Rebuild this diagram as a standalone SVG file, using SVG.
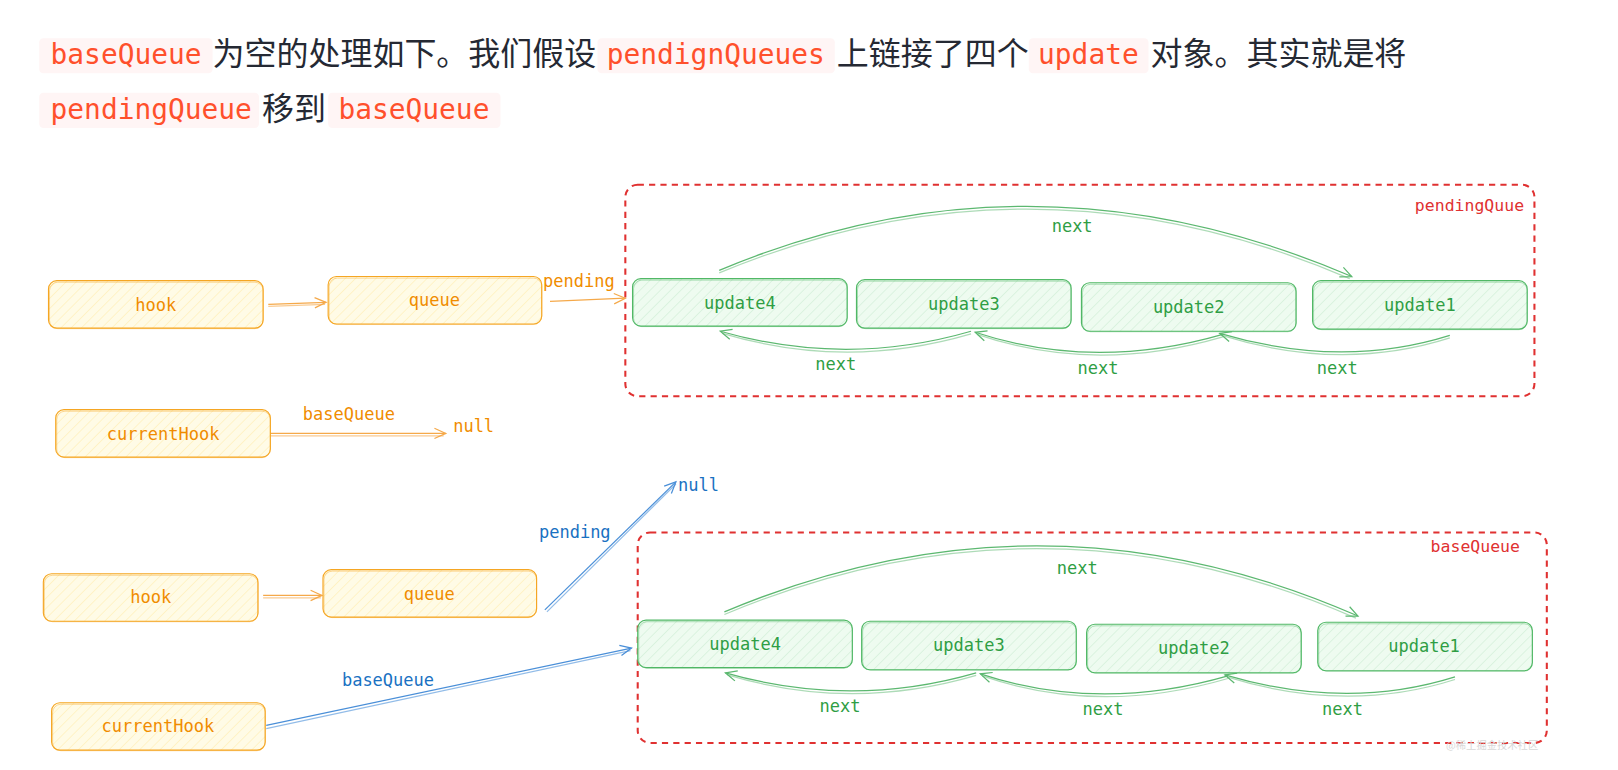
<svg xmlns="http://www.w3.org/2000/svg" width="1618" height="770" viewBox="0 0 1618 770">
<style>
.zh{font-family:"Noto Sans CJK SC","Noto Sans",sans-serif;font-size:31px;fill:#252933}
.code{font-family:"DejaVu Sans Mono","Liberation Mono",monospace;font-size:27px;fill:#ff502c}
.codebg{fill:#fff5f5}
.t{font-family:"DejaVu Sans Mono","Liberation Mono",monospace;font-size:16.5px;text-anchor:middle}
.ot{fill:#f08c00}
.gt{fill:#2f9e44}
.bt{fill:#1971c2}
.rt{fill:#e03131;font-family:"DejaVu Sans Mono","Liberation Mono",monospace;font-size:16px;text-anchor:end}
.yn{fill:url(#hy);stroke:#f5a623;stroke-width:1.1}
.gn{fill:url(#hg);stroke:#51b866;stroke-width:1.1}
.yn2{fill:none;stroke:#f5a623;stroke-width:0.7;opacity:0.6}
.gn2{fill:none;stroke:#51b866;stroke-width:0.7;opacity:0.6}
.box{fill:none;stroke:#e03131;stroke-width:2;stroke-dasharray:6 5}
.co{fill:none;stroke:#f5a94a;stroke-width:1.2}
.cg{fill:none;stroke:#5cb870;stroke-width:1.2}
.cb{fill:none;stroke:#4a8fd8;stroke-width:1.2}
</style>
<defs>
<pattern id="hy" patternUnits="userSpaceOnUse" width="7" height="7" patternTransform="rotate(45)">
<rect width="7" height="7" fill="#fffbe6"/>
<line x1="0" y1="0" x2="0" y2="7" stroke="#ffeeb0" stroke-width="1.1"/>
</pattern>
<pattern id="hg" patternUnits="userSpaceOnUse" width="7" height="7" patternTransform="rotate(45)">
<rect width="7" height="7" fill="#eefbf0"/>
<line x1="0" y1="0" x2="0" y2="7" stroke="#cdeed3" stroke-width="1.1"/>
</pattern>
<marker id="ao" markerUnits="userSpaceOnUse" markerWidth="14" markerHeight="12" refX="12" refY="6" orient="auto"><path d="M1,1 L12,6 L1,11" fill="none" stroke="#f5a94a" stroke-width="1.2"/></marker>
<marker id="ag" markerUnits="userSpaceOnUse" markerWidth="14" markerHeight="12" refX="12" refY="6" orient="auto"><path d="M1,1 L12,6 L1,11" fill="none" stroke="#5cb870" stroke-width="1.2"/></marker>
<marker id="ab" markerUnits="userSpaceOnUse" markerWidth="14" markerHeight="12" refX="12" refY="6" orient="auto"><path d="M1,1 L12,6 L1,11" fill="none" stroke="#4a8fd8" stroke-width="1.2"/></marker>
</defs>
<rect width="1618" height="770" fill="#ffffff"/>
<g transform="scale(1.0319)">
<g id="intro">
<rect class="codebg" x="38" y="37" width="168" height="34" rx="4"/>
<text class="code" x="49" y="62">baseQueue</text>
<text class="zh" x="206" y="63">为空的处理如下。我们假设</text>
<rect class="codebg" x="579" y="37" width="230" height="34" rx="4"/>
<text class="code" x="588" y="62">pendignQueues</text>
<text class="zh" x="811" y="63">上链接了四个</text>
<rect class="codebg" x="997" y="37" width="116" height="34" rx="4"/>
<text class="code" x="1006" y="62">update</text>
<text class="zh" x="1115" y="63">对象。其实就是将</text>
<rect class="codebg" x="38" y="90" width="213" height="34" rx="4"/>
<text class="code" x="49" y="115">pendingQueue</text>
<text class="zh" x="254" y="116">移到</text>
<rect class="codebg" x="318" y="90" width="167" height="34" rx="4"/>
<text class="code" x="328" y="115">baseQueue</text>
</g>

<g id="pendingQueue-box">
<rect class="box" x="606" y="179" width="881" height="205" rx="12"/>
<text class="rt" x="1477" y="204">pendingQuue</text>
</g>
<g id="baseQueue-box">
<rect class="box" x="618" y="516" width="881" height="204" rx="12"/>
<text class="rt" x="1473" y="535">baseQueue</text>
</g>

<g id="connectors">
<path class="co" d="M260,295 L316,293" marker-end="url(#ao)"/>
<path class="co" d="M260,297 L315,295" opacity="0.6"/>
<path class="co" d="M533,292 L606,289" marker-end="url(#ao)"/>
<path class="co" d="M258,420 L432,420" marker-end="url(#ao)"/>
<path class="co" d="M258,422.5 L430,422.5" opacity="0.6"/>
<path class="cg" d="M697,262 Q1000,135 1310,268" marker-end="url(#ag)"/>
<path class="cg" d="M697,264.5 Q1000,138 1308,270" opacity="0.5"/>
<path class="cg" d="M941,321 Q820,356 698,321" marker-end="url(#ag)"/>
<path class="cg" d="M941,323.5 Q820,359 700,323" opacity="0.5"/>
<path class="cg" d="M1185,324 Q1060,360 945,322" marker-end="url(#ag)"/>
<path class="cg" d="M1185,326.5 Q1060,363 947,324" opacity="0.5"/>
<path class="cg" d="M1405,325 Q1300,358 1182,323" marker-end="url(#ag)"/>
<path class="cg" d="M1405,327.5 Q1300,361 1184,325" opacity="0.5"/>

<path class="co" d="M255,577 L312,577" marker-end="url(#ao)"/>
<path class="co" d="M255,579.5 L311,579.5" opacity="0.6"/>
<path class="cb" d="M528,591 L655,467" marker-end="url(#ab)"/>
<path class="cb" d="M530,593 L655,469" opacity="0.6"/>
<path class="cb" d="M258,703 L612,628" marker-end="url(#ab)"/>
<path class="cb" d="M258,706 L611,630.5" opacity="0.6"/>
<path class="cg" d="M702,593 Q1010,463 1316,597" marker-end="url(#ag)"/>
<path class="cg" d="M702,595.5 Q1010,466 1314,599" opacity="0.5"/>
<path class="cg" d="M946,652 Q825,687 703,652" marker-end="url(#ag)"/>
<path class="cg" d="M946,654.5 Q825,690 705,654" opacity="0.5"/>
<path class="cg" d="M1190,655 Q1065,691 950,653" marker-end="url(#ag)"/>
<path class="cg" d="M1190,657.5 Q1065,694 952,655" opacity="0.5"/>
<path class="cg" d="M1410,656 Q1305,689 1187,654" marker-end="url(#ag)"/>
<path class="cg" d="M1410,658.5 Q1305,692 1189,656" opacity="0.5"/>

<text class="t ot" x="561" y="278">pending</text>
<text class="t ot" x="338" y="407">baseQueue</text>
<text class="t ot" x="459" y="419">null</text>
<text class="t gt" x="1039" y="225">next</text>
<text class="t gt" x="810" y="359">next</text>
<text class="t gt" x="1064" y="362">next</text>
<text class="t gt" x="1296" y="362">next</text>

<text class="t bt" x="557" y="521">pending</text>
<text class="t bt" x="677" y="476">null</text>
<text class="t bt" x="376" y="665">baseQueue</text>
<text class="t gt" x="1044" y="556">next</text>
<text class="t gt" x="814" y="690">next</text>
<text class="t gt" x="1069" y="693">next</text>
<text class="t gt" x="1301" y="693">next</text>
</g>

<g id="hook1"><rect class="yn" x="47" y="272" width="208" height="46" rx="8"/><rect class="yn2" x="48" y="273.5" width="207" height="45" rx="8"/><text class="t ot" x="151" y="301">hook</text></g>
<g id="queue1"><rect class="yn" x="318" y="268" width="207" height="46" rx="8"/><rect class="yn2" x="319" y="269.5" width="206" height="45" rx="8"/><text class="t ot" x="421" y="297">queue</text></g>
<g id="currentHook1"><rect class="yn" x="54" y="397" width="208" height="46" rx="8"/><rect class="yn2" x="55" y="398.5" width="207" height="45" rx="8"/><text class="t ot" x="158" y="426">currentHook</text></g>

<g id="p-update4"><rect class="gn" x="613" y="270" width="208" height="46" rx="8"/><rect class="gn2" x="614" y="271.5" width="207" height="45" rx="8"/><text class="t gt" x="717" y="299">update4</text></g>
<g id="p-update3"><rect class="gn" x="830" y="271" width="208" height="47" rx="8"/><rect class="gn2" x="831" y="272.5" width="207" height="46" rx="8"/><text class="t gt" x="934" y="300">update3</text></g>
<g id="p-update2"><rect class="gn" x="1048" y="274" width="208" height="47" rx="8"/><rect class="gn2" x="1049" y="275.5" width="207" height="46" rx="8"/><text class="t gt" x="1152" y="303">update2</text></g>
<g id="p-update1"><rect class="gn" x="1272" y="272" width="208" height="47" rx="8"/><rect class="gn2" x="1273" y="273.5" width="207" height="46" rx="8"/><text class="t gt" x="1376" y="301">update1</text></g>

<g id="hook2"><rect class="yn" x="42" y="556" width="208" height="46" rx="8"/><rect class="yn2" x="43" y="557.5" width="207" height="45" rx="8"/><text class="t ot" x="146" y="584">hook</text></g>
<g id="queue2"><rect class="yn" x="313" y="552" width="207" height="46" rx="8"/><rect class="yn2" x="314" y="553.5" width="206" height="45" rx="8"/><text class="t ot" x="416" y="581">queue</text></g>
<g id="currentHook2"><rect class="yn" x="50" y="681" width="207" height="46" rx="8"/><rect class="yn2" x="51" y="682.5" width="206" height="45" rx="8"/><text class="t ot" x="153" y="709">currentHook</text></g>

<g id="b-update4"><rect class="gn" x="618" y="601" width="208" height="46" rx="8"/><rect class="gn2" x="619" y="602.5" width="207" height="45" rx="8"/><text class="t gt" x="722" y="630">update4</text></g>
<g id="b-update3"><rect class="gn" x="835" y="602" width="208" height="47" rx="8"/><rect class="gn2" x="836" y="603.5" width="207" height="46" rx="8"/><text class="t gt" x="939" y="631">update3</text></g>
<g id="b-update2"><rect class="gn" x="1053" y="605" width="208" height="47" rx="8"/><rect class="gn2" x="1054" y="606.5" width="207" height="46" rx="8"/><text class="t gt" x="1157" y="634">update2</text></g>
<g id="b-update1"><rect class="gn" x="1277" y="603" width="208" height="47" rx="8"/><rect class="gn2" x="1278" y="604.5" width="207" height="46" rx="8"/><text class="t gt" x="1380" y="632">update1</text></g>

<text x="1446" y="726" text-anchor="middle" font-family="Noto Sans CJK SC, sans-serif" font-size="10" fill="#d8d8d8">@稀土掘金技术社区</text>
</g>
</svg>
